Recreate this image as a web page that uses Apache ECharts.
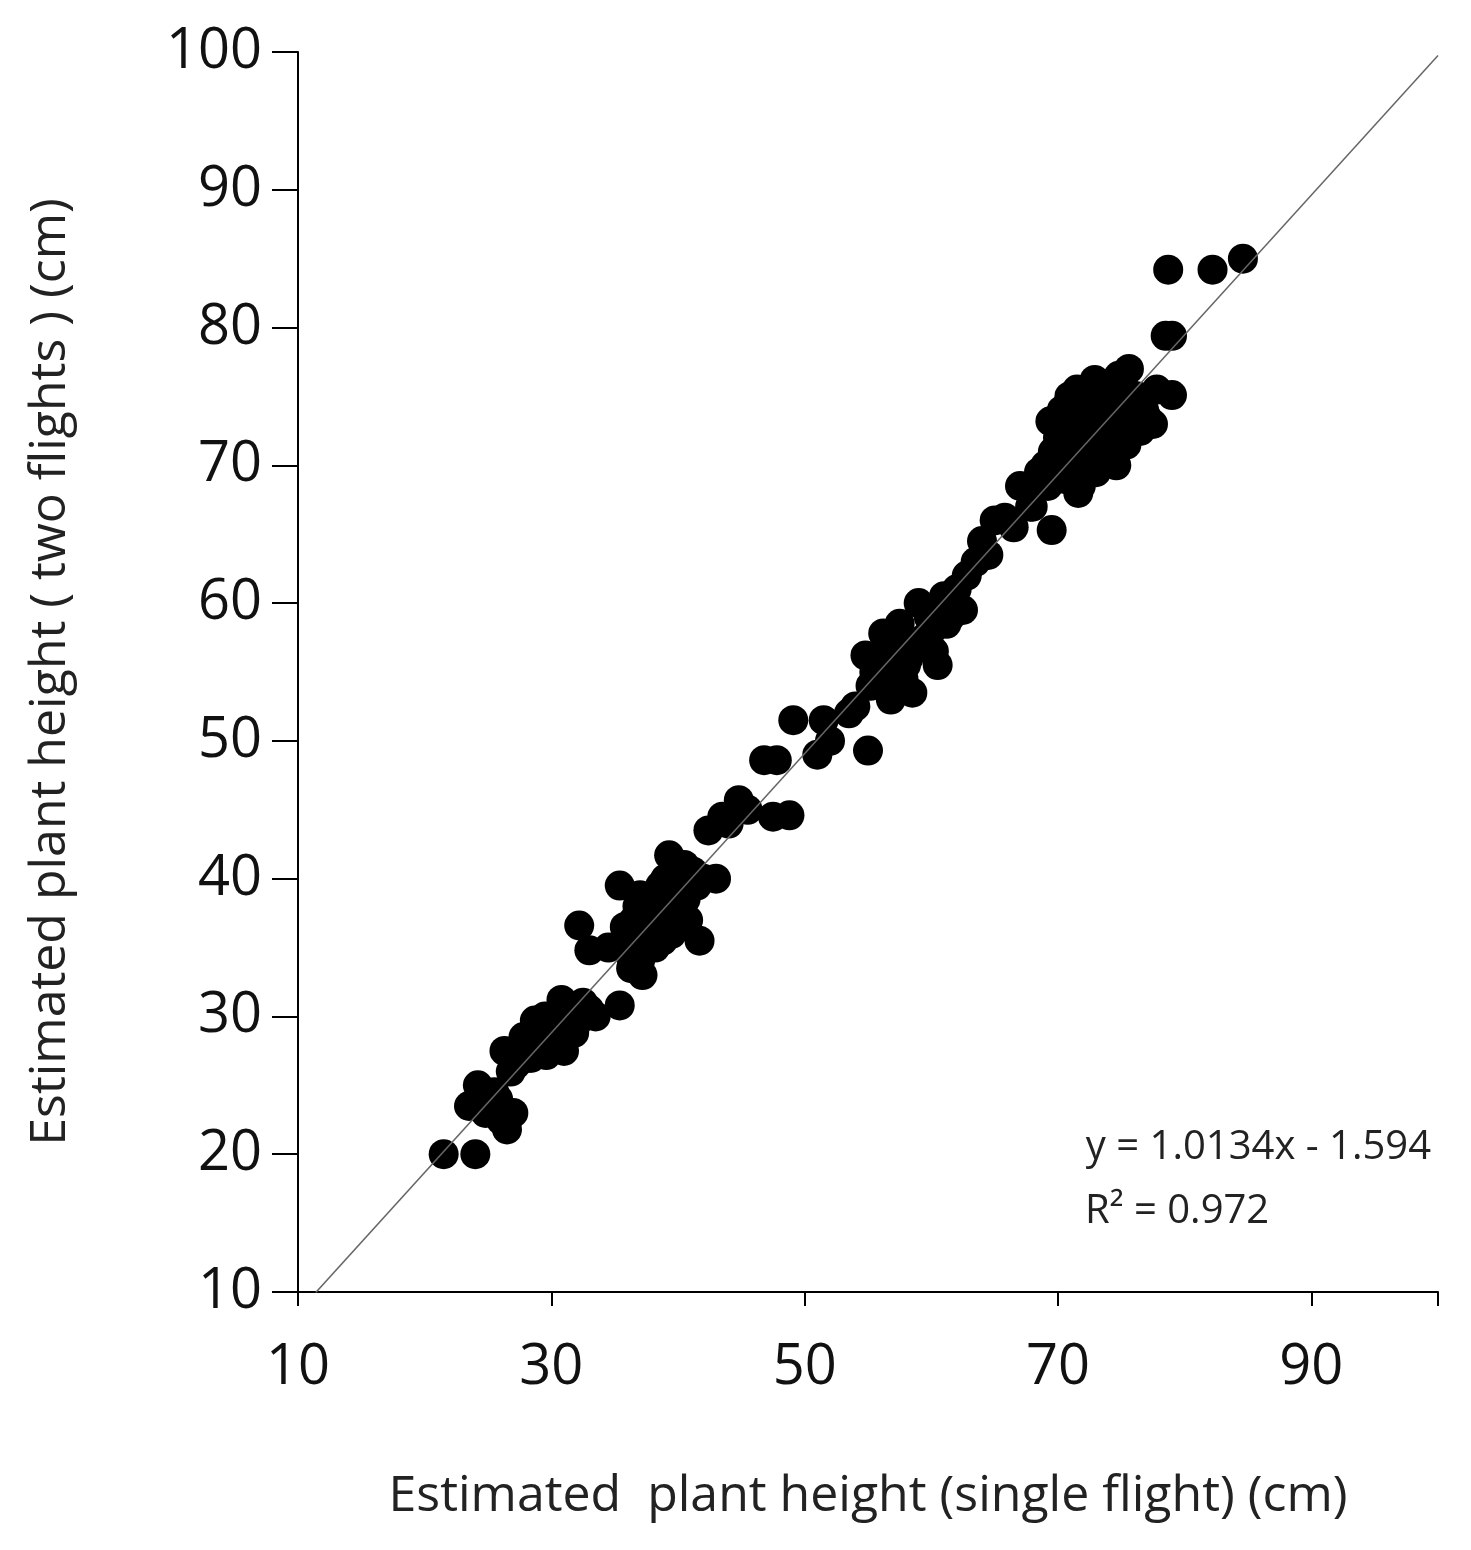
<!DOCTYPE html>
<html>
<head>
<meta charset="utf-8">
<script src="https://cdn.jsdelivr.net/npm/echarts@6/dist/echarts.min.js"></script>
<style>html,body{margin:0;background:#fff}#chart{width:1471px;height:1550px}</style>
</head>
<body>
<div id="chart"></div>
<script>
// Single flight (x) vs two flights (y)
const singleFlight = [
  21.5, 24, 23.5, 24.2, 25, 26, 27, 26.5, 25.5, 26.3, 27.5, 26.8, 28.7, 29.5, 30.6, 31.5, 29.8, 28.4, 30.2, 31.0,
  32.0, 33.0, 32.5, 33.5, 30.8, 31.8, 29.3, 28.0, 32.2, 33.0, 35.4, 35.4, 36.0, 36.5, 37.0, 37.5, 38.0, 38.5, 39.0, 39.3,
  39.8, 40.3, 40.8, 41.2, 41.7, 37.2, 38.2, 36.3, 35.8, 39.5, 40.5, 42.4, 43.0, 43.5, 44.8, 46.8, 47.8, 48.8, 47.5, 49.1,
  51.0, 51.5, 52.0, 53.5, 54.8, 55.0, 55.5, 56.0, 56.5, 57.0, 57.5, 58.0, 58.5, 59.0, 59.5, 60.0, 60.5, 61.0, 61.5, 62.0,
  62.5, 56.8, 57.8, 60.2, 63.5, 64.5, 65.0, 66.5, 67.0, 68.0, 69.0, 69.5, 69.2, 70.0, 70.3, 70.6, 71.0, 71.3, 71.6, 72.0,
  72.3, 72.6, 73.0, 73.3, 73.6, 74.0, 74.3, 74.6, 75.0, 75.3, 75.6, 76.0, 76.5, 77.0, 70.5, 71.8, 72.8, 73.8, 74.8, 75.8,
  70.8, 71.5, 72.5, 73.5, 74.5, 76.3, 77.5, 69.8, 71.2, 73.2, 78.5, 79.0, 79.0, 78.7, 82.2, 84.6, 34.5, 36.8, 38.8, 40.0,
  24.8, 25.8, 27.2, 28.2, 29.0, 30.0, 31.2, 32.8, 27.8, 29.6, 36.2, 37.8, 39.0, 40.6, 41.5, 38.6, 37.0, 39.8, 42.0, 36.6,
  44.0, 45.5, 54.0, 55.8, 56.2, 57.2, 58.8, 59.8, 61.2, 62.8, 55.2, 58.2, 64.0, 65.8, 67.8, 68.5, 69.6, 70.2, 71.0, 72.2,
  73.0, 74.2, 75.2, 76.2, 71.6, 72.8, 73.6, 74.8, 76.8, 70.4, 71.8, 73.4, 75.4, 72.4, 74.4, 69.4, 77.8, 76.6, 70.9, 72.9
];
const twoFlights = [
  20.0, 20.0, 23.5, 25.0, 24.0, 22.5, 23.0, 21.8, 24.5, 27.5, 27.5, 26.0, 29.7, 30.0, 29.0, 30.5, 28.0, 27.0, 28.5, 27.5,
  29.5, 30.5, 31.0, 30.0, 31.2, 28.8, 29.0, 27.8, 36.6, 34.8, 30.8, 39.5, 35.5, 37.0, 34.0, 36.0, 38.5, 37.5, 40.0, 41.7,
  39.0, 38.0, 37.0, 40.5, 35.5, 33.0, 35.0, 33.5, 36.5, 36.0, 41.0, 43.5, 40.0, 44.5, 45.7, 48.6, 48.6, 44.6, 44.5, 51.5,
  49.0, 51.5, 50.0, 52.0, 56.2, 49.3, 55.0, 54.0, 57.0, 56.0, 58.5, 55.5, 53.5, 60.0, 57.5, 58.0, 55.5, 60.5, 59.0, 61.0,
  59.5, 53.0, 54.5, 56.5, 63.0, 63.5, 66.0, 65.5, 68.5, 67.0, 70.0, 65.3, 68.5, 72.0, 74.0, 69.0, 71.5, 73.0, 68.0, 70.5,
  75.0, 72.5, 69.5, 74.5, 71.0, 73.5, 76.0, 70.0, 72.0, 75.5, 77.0, 74.0, 72.5, 73.5, 70.5, 68.5, 74.0, 71.0, 76.5, 73.0,
  73.5, 75.5, 71.5, 74.8, 70.5, 75.0, 73.0, 69.0, 70.0, 72.0, 79.4, 79.4, 75.1, 84.2, 84.2, 85.0, 35.0, 38.0, 35.5, 36.5,
  23.0, 24.0, 26.5, 27.0, 28.2, 29.0, 29.8, 30.2, 28.5, 27.2, 34.5, 37.2, 36.0, 38.5, 39.5, 39.5, 38.8, 37.8, 40.0, 33.8,
  44.0, 45.0, 52.5, 54.8, 57.8, 56.5, 57.0, 59.0, 58.5, 62.0, 54.0, 56.0, 64.5, 66.2, 67.0, 69.5, 71.0, 69.8, 70.0, 73.5,
  71.8, 72.8, 73.8, 75.0, 74.5, 70.8, 75.2, 72.5, 74.0, 71.2, 72.2, 73.8, 71.5, 69.5, 70.8, 73.2, 75.5, 73.8, 75.0, 76.2
];
const slope = 1.0134, intercept = -1.594;
const fitX = [11.4, 100];
const xTicks = [10, 30, 50, 70, 90];

const font = 'Open Sans';
const chart = echarts.init(document.getElementById('chart'));
chart.setOption({
  animation: false,
  grid: { left: 298, top: 52, right: 33, bottom: 258 },
  xAxis: {
    type: 'value', min: 10, max: 100, interval: 20,
    name: 'Estimated  plant height (single flight) (cm)', nameLocation: 'middle', nameGap: 180,
    nameTextStyle: { fontFamily: font, fontSize: 50, color: '#222' },
    axisLine: { show: true, lineStyle: { color: '#000', width: 2 } },
    axisTick: { show: true, length: 14, lineStyle: { color: '#000', width: 2 } },
    axisLabel: { fontFamily: font, fontSize: 56, color: '#111', margin: 48,
      formatter: v => xTicks.includes(v) ? v : '' },
    splitLine: { show: false }
  },
  yAxis: {
    type: 'value', min: 10, max: 100, interval: 10,
    name: 'Estimated plant height ( two flights ) (cm)', nameLocation: 'middle', nameGap: 222,
    nameTextStyle: { fontFamily: font, fontSize: 50, color: '#222' },
    axisLine: { show: true, lineStyle: { color: '#000', width: 2 } },
    axisTick: { show: true, length: 26, lineStyle: { color: '#000', width: 2 } },
    axisLabel: { fontFamily: font, fontSize: 56, color: '#111', margin: 36 },
    splitLine: { show: false }
  },
  series: [
    {
      type: 'scatter', symbolSize: 30, itemStyle: { color: '#000', opacity: 1 },
      data: singleFlight.map((x, i) => [x, twoFlights[i]])
    },
    {
      type: 'line', symbol: 'none', lineStyle: { color: '#666', width: 1.5 },
      data: fitX.map(x => [x, slope * x + intercept])
    }
  ],
  graphic: [
    { type: 'text', right: 40, top: 1128, style: { text: 'y = 1.0134x - 1.594', fontFamily: font, fontSize: 40, fill: '#222' } },
    { type: 'text', left: 1085, top: 1192, style: { text: 'R² = 0.972', fontFamily: font, fontSize: 40, fill: '#222' } }
  ]
});
</script>
</body>
</html>
